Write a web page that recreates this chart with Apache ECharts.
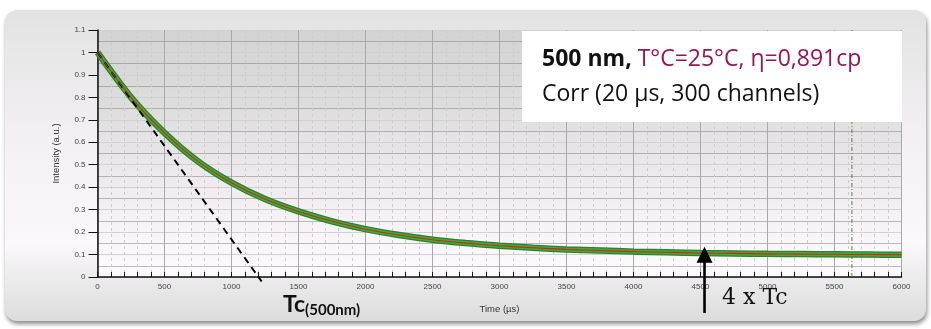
<!DOCTYPE html>
<html>
<head>
<meta charset="utf-8">
<script src="https://cdn.jsdelivr.net/npm/echarts@6/dist/echarts.min.js"></script>
<style>
  html, body { margin: 0; padding: 0; background: #ffffff; }
  #chart { width: 931px; height: 329px; }
</style>
</head>
<body>
<div id="chart"></div>
<script>
// Correlation decay, 500 nm, 25 °C
const timeUs = [0, 250, 500, 750, 1000, 1250, 1500, 1750, 2000, 2250, 2500, 2750, 3000,
  3250, 3500, 3750, 4000, 4250, 4500, 4750, 5000, 5250, 5500, 5750, 6000];
const intensity = [1.000, 0.800, 0.642, 0.515, 0.420, 0.347, 0.292, 0.248, 0.213, 0.187,
  0.166, 0.151, 0.139, 0.130, 0.123, 0.118, 0.113, 0.110, 0.107, 0.105, 0.103, 0.102,
  0.101, 0.100, 0.099];

// Initial-slope tangent (defines Tc)
const tangentTime = [0, 1225];
const tangentValue = [1, -0.02];

// Cursor line and 4 x Tc marker arrow
const cursorTime = [5630, 5630];
const cursorValue = [0, 1.1];
const arrowTime = [4530, 4530];
const arrowShaft = [-0.16, 0.075];
const arrowHeadValue = 0.0995;

const xTicks = { min: 0, max: 6000, interval: 500 };
const yTicks = { min: 0, max: 1.1, interval: 0.1 };

const zip = (a, b) => a.map((v, i) => [v, b[i]]);
const curve = zip(timeUs, intensity);

const chart = echarts.init(document.getElementById('chart'), null, { renderer: 'canvas' });

const axisFont = 'Liberation Sans, Arial, sans-serif';
const boxFont = '"Open Sans", sans-serif';

chart.setOption({
  animation: false,
  backgroundColor: '#ffffff',
  grid: {
    left: 97.5, right: 29.5, top: 30, bottom: 52,
    show: true, borderWidth: 0,
    backgroundColor: new echarts.graphic.LinearGradient(0, 0, 0, 1, [
      { offset: 0, color: '#d3d3d3' },
      { offset: 0.3, color: '#dddddd' },
      { offset: 0.55, color: '#ebe7eb' },
      { offset: 0.8, color: '#f7f3f7' },
      { offset: 1, color: '#fdfbfd' }
    ])
  },
  xAxis: {
    type: 'value', min: xTicks.min, max: xTicks.max, interval: xTicks.interval,
    name: 'Time (µs)', nameLocation: 'middle', nameGap: 27,
    nameTextStyle: { fontSize: 9.5, color: '#333', fontFamily: axisFont },
    axisLine: { lineStyle: { color: '#111', width: 1.5 } },
    axisTick: { inside: true, length: 5, lineStyle: { color: '#111' } },
    minorTick: { show: true, splitNumber: 5, length: 5, lineStyle: { color: '#111' } },
    axisLabel: { fontSize: 8, color: '#444', fontFamily: axisFont, margin: 6,
      formatter: v => String(v) },
    splitLine: { show: true, lineStyle: { color: '#a9a9a9', width: 1 } },
    minorSplitLine: { show: true, lineStyle: { color: '#cdcdcd', type: [3, 3], width: 1 } }
  },
  yAxis: {
    type: 'value', min: yTicks.min, max: yTicks.max, interval: yTicks.interval,
    name: 'Intensity (a.u.)', nameLocation: 'middle', nameGap: 36,
    nameTextStyle: { fontSize: 9.5, color: '#333', fontFamily: axisFont },
    axisLine: { show: true, lineStyle: { color: '#111', width: 1.5 } },
    axisTick: { show: true, inside: false, length: 9, lineStyle: { color: '#111' } },
    minorTick: { show: false, splitNumber: 2 },
    axisLabel: { fontSize: 8, color: '#444', fontFamily: axisFont, margin: 12,
      formatter: v => String(Math.round(v * 10) / 10) },
    splitLine: { show: true, lineStyle: { color: '#d3cfd3', width: 1 } },
    minorSplitLine: { show: true, lineStyle: { color: '#7a7a7a', type: [1, 1], width: 1 } }
  },
  series: [
    {
      name: 'cursor', type: 'line', data: zip(cursorTime, cursorValue),
      symbol: 'none', z: 2,
      lineStyle: { color: '#5f7f2c', width: 1, type: [4, 2, 1, 2] }
    },
    {
      name: 'band-edge', type: 'line', data: curve, smooth: 0.3, symbol: 'none', z: 3,
      lineStyle: { color: '#25852a', width: 6.5 }
    },
    {
      name: 'band', type: 'line', data: curve, smooth: 0.3, symbol: 'none', z: 4,
      lineStyle: { color: '#3cad3c', width: 4 }
    },
    {
      name: 'tangent', type: 'line', data: zip(tangentTime, tangentValue),
      symbol: 'none', clip: false, z: 5,
      lineStyle: { color: '#000', width: 2, type: [7, 5] }
    },
    {
      name: 'fit', type: 'line', data: curve, smooth: 0.3, symbol: 'none', z: 6,
      lineStyle: { color: '#e41a1a', width: 1.1 }
    },
    {
      name: 'arrow', type: 'line', data: zip(arrowTime, arrowShaft),
      symbol: 'none', clip: false, z: 7,
      lineStyle: { color: '#000', width: 2.6 }
    },
    {
      name: 'arrow-head', type: 'scatter', data: [[arrowTime[1], arrowHeadValue]],
      symbol: 'triangle', symbolSize: [16, 16], clip: false, z: 8,
      itemStyle: { color: '#000', opacity: 1 }
    }
  ],
  graphic: [
    {
      type: 'rect', z: -10, silent: true,
      shape: { x: 5, y: 10, width: 921, height: 311, r: 12 },
      style: {
        fill: new echarts.graphic.LinearGradient(0, 0, 0, 1, [
          { offset: 0, color: '#e2e2e2' },
          { offset: 0.15, color: '#e8e8e8' },
          { offset: 0.4, color: '#f3eff3' },
          { offset: 0.75, color: '#fbf8fb' },
          { offset: 0.86, color: '#ececec' },
          { offset: 1, color: '#dcdcdc' }
        ]),
        shadowBlur: 4, shadowOffsetX: 1, shadowOffsetY: 3, shadowColor: 'rgba(0,0,0,0.45)'
      }
    },
    {
      type: 'rect', z: 100, silent: true,
      shape: { x: 522, y: 31, width: 380, height: 91 },
      style: { fill: '#ffffff' }
    },
    {
      type: 'text', z: 101, silent: true, x: 542, y: 59,
      style: {
        text: '{b|500 nm,} {r|T°C=25°C, η=0,891cp}',
        verticalAlign: 'middle',
        fontSize: 23, fontFamily: boxFont,
        rich: {
          b: { fontSize: 23, fontWeight: 'bold', fill: '#111', fontFamily: boxFont },
          r: { fontSize: 23, fill: '#971552', fontFamily: boxFont }
        }
      }
    },
    {
      type: 'text', z: 101, silent: true, x: 542, y: 94,
      style: {
        text: 'Corr (20 µs, 300 channels)', verticalAlign: 'middle',
        fontSize: 23, fontFamily: boxFont, fill: '#111'
      }
    },
    {
      type: 'text', z: 101, silent: true, x: 283, y: 316,
      style: {
        text: '{t|Tc}{s|(500nm)}', verticalAlign: 'bottom',
        rich: {
          t: { fontSize: 23, fontWeight: 'bold', fill: '#111', fontFamily: 'Lato, sans-serif', verticalAlign: 'bottom' },
          s: { fontSize: 15, fontWeight: 'bold', fill: '#111', fontFamily: 'Lato, sans-serif', verticalAlign: 'bottom', padding: [0, 0, -2, 0] }
        }
      }
    },
    {
      type: 'text', z: 101, silent: true, x: 722, y: 298,
      style: {
        text: '4 x Tc', verticalAlign: 'middle',
        fontSize: 22, fontFamily: '"DejaVu Serif", serif', fill: '#111'
      }
    }
  ]
});
</script>
</body>
</html>
